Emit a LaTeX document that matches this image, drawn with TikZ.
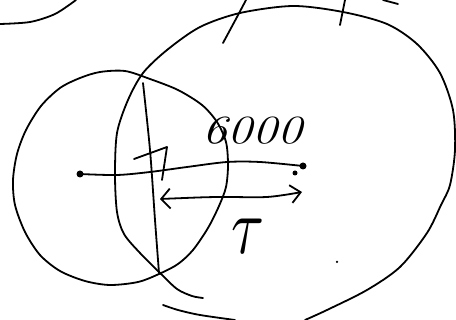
\documentclass[tikz,border=0pt]{standalone}
\usetikzlibrary{arrows.meta}
\begin{document}
\begin{tikzpicture}[x=1pt,y=-1pt,
  ink/.style={line width=1.8pt,line cap=round,line join=round},
  dotmark/.style={circle,fill=black,inner sep=0pt,minimum size=7pt},
  hand/.style={font=\fontsize{40}{40}\selectfont\itshape}]
\useasboundingbox (0,0) rectangle (456,320);
% top-left arc
\draw[ink] plot[smooth] coordinates {(0,24) (30,22) (55,14) (76,0)};
% small circle
\draw[ink] plot[smooth cycle] coordinates {(100,72) (125,71) (150,79) (178,90) (202,105) (217,122) (226,142) (228,165) (226,187) (219,206) (208,228) (193,250) (178,264) (159,274) (138,282) (110,285) (85,281) (60,271) (40,255) (25,232) (15,205) (13,180) (17,154) (26,130) (41,106) (60,88) (80,78)};
% big circle left/top/right
\draw[ink] plot[smooth] coordinates {(203,298) (192,296) (177,289) (160,273) (140,253) (124,234) (117,212) (115,175) (117,133) (128,100) (143,73) (167,50) (200,27) (240,13) (293,6) (343,12) (387,24) (417,44) (440,73) (453,110) (455,150) (450,185) (441,205) (427,233) (400,267) (367,290) (327,310) (305,320)};
% big circle bottom stroke
\draw[ink] plot[smooth] coordinates {(163,305) (178,310) (200,315) (235,320)};
% ticks at top
\draw[ink] plot[smooth] coordinates {(246,0) (237,17) (223,43)};
\draw[ink] (345,0) -- (340,25);
\draw[ink] (383,0) -- (398,4);
% vertical line
\draw[ink] plot[smooth] coordinates {(143,83) (150,150) (155,220) (159,273)};
% right angle mark
\draw[ink] (134,159) -- (167,147) -- (162,180);
% dots and wavy line
\node[dotmark] (dotA) at (80,174) {};
\node[dotmark] (dotB) at (303,166) {};
\node[dotmark,minimum size=5pt] (dotC) at (295,173) {};
\draw[ink] plot[smooth] coordinates {(dotA) (117,175) (150,172) (187,167) (227,162) (260,162) (dotB)};
% arrow
\coordinate (arrL) at (160,199);
\coordinate (arrR) at (302,192);
\draw[ink,{Straight Barb[length=9pt,width=20pt]}-{Straight Barb[length=10pt,width=18pt]}] plot[smooth] coordinates {(arrL) (217,197) (267,197) (arrR)};
% speck
\node[dotmark,minimum size=2.5pt] (speck) at (337,262) {};
% labels
\node[hand,xscale=1.25] (lab6000) at (252,131) {6000};
\node[xscale=6,yscale=8] (labtau) at (248,236) {$\tau$};
\end{tikzpicture}
\end{document}
